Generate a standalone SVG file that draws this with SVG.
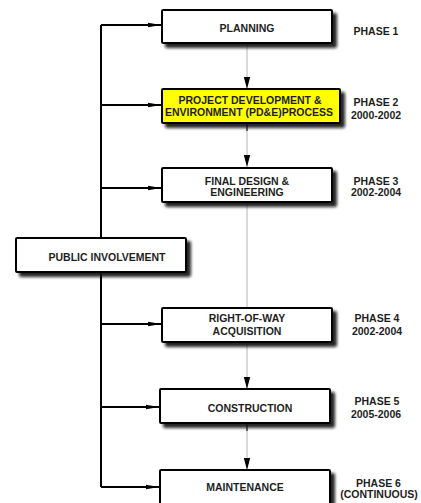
<svg xmlns="http://www.w3.org/2000/svg" width="421" height="503" viewBox="0 0 421 503">
<style>
.box{fill:#fff;stroke:#000;stroke-width:2;filter:url(#sh)}
.hl{fill:#ffff00}
.t{font-family:"Liberation Sans",Arial,sans-serif;font-weight:bold;font-size:10.5px;fill:#1e1e1e;text-anchor:middle}
.trunk{fill:none;stroke:#000;stroke-width:2}
.feed{fill:none;stroke:#b4b4b4;stroke-width:1}
</style>
<defs>
<filter id="sh" x="-10%" y="-20%" width="130%" height="160%">
<feGaussianBlur in="SourceAlpha" stdDeviation="1.5"/>
<feOffset dx="3.5" dy="3.5" result="b"/>
<feFlood flood-color="#111" flood-opacity="0.9"/>
<feComposite in2="b" operator="in"/>
<feMerge><feMergeNode/><feMergeNode in="SourceGraphic"/></feMerge>
</filter>
<marker id="ah" markerWidth="14" markerHeight="8" refX="13" refY="4" orient="auto" markerUnits="userSpaceOnUse">
<path d="M0,1.8 L13,4 L0,6.2 Q-1.2,4 0,1.8 Z" fill="#000"/>
</marker>
<marker id="ad" markerWidth="8" markerHeight="13" refX="4" refY="12" orient="0" markerUnits="userSpaceOnUse">
<path d="M0.8,0 L7.2,0 L4,12 Z" fill="#000"/>
</marker>
</defs>
<g id="connectors">
<path class="trunk" d="M101,25 V487"/>
<path class="trunk" marker-end="url(#ah)" d="M101,25 H161"/>
<path class="trunk" marker-end="url(#ah)" d="M101,105 H161"/>
<path class="trunk" marker-end="url(#ah)" d="M101,188 H161"/>
<path class="trunk" marker-end="url(#ah)" d="M101,324 H161"/>
<path class="trunk" marker-end="url(#ah)" d="M101,407 H159"/>
<path class="trunk" marker-end="url(#ah)" d="M101,487 H159"/>
<path class="feed" marker-end="url(#ad)" d="M247,43 V89"/>
<path class="feed" marker-end="url(#ad)" d="M247,123 V167"/>
<path class="feed" d="M247,202 V308"/>
<path class="feed" marker-end="url(#ad)" d="M247,342 V389"/>
<path class="feed" marker-end="url(#ad)" d="M247,423 V470"/>
<path d="M247,124 V131 M247,424 V431" stroke="#444" stroke-width="1.5"/>
</g>
<g id="planning">
<rect class="box" x="162" y="10" width="170" height="33" rx="1"/>
<text class="t" x="247" y="31.7">PLANNING</text>
<text class="t" x="376" y="34.7">PHASE 1</text>
</g>
<g id="pde">
<rect class="box hl" x="162" y="89" width="178" height="34" rx="1"/>
<text class="t" x="250" y="104">PROJECT DEVELOPMENT &amp;</text>
<text class="t" x="249" y="116.3">ENVIRONMENT (PD&amp;E)PROCESS</text>
<text class="t" x="376" y="106">PHASE 2</text>
<text class="t" x="376" y="119">2000-2002</text>
</g>
<g id="final-design">
<rect class="box" x="162" y="168" width="170" height="34" rx="1"/>
<text class="t" x="247" y="184.5">FINAL DESIGN &amp;</text>
<text class="t" x="247" y="196">ENGINEERING</text>
<text class="t" x="376" y="184.5">PHASE 3</text>
<text class="t" x="376" y="196">2002-2004</text>
</g>
<g id="public">
<rect class="box" x="16" y="238" width="170" height="34" rx="1"/>
<text class="t" x="107" y="260.5">PUBLIC INVOLVEMENT</text>
</g>
<g id="row">
<rect class="box" x="162" y="308" width="170" height="34" rx="1"/>
<text class="t" x="247" y="322">RIGHT-OF-WAY</text>
<text class="t" x="247" y="334.5">ACQUISITION</text>
<text class="t" x="377" y="322">PHASE 4</text>
<text class="t" x="377" y="334.5">2002-2004</text>
</g>
<g id="construction">
<rect class="box" x="160" y="389" width="170" height="34" rx="1"/>
<text class="t" x="250" y="411.7">CONSTRUCTION</text>
<text class="t" x="377" y="404.5">PHASE 5</text>
<text class="t" x="376" y="418">2005-2006</text>
</g>
<g id="maintenance">
<rect class="box" x="160" y="470" width="170" height="40" rx="1"/>
<text class="t" x="245" y="490.5">MAINTENANCE</text>
<text class="t" x="378.5" y="486.5">PHASE 6</text>
<text class="t" x="379" y="498">(CONTINUOUS)</text>
</g>
</svg>
